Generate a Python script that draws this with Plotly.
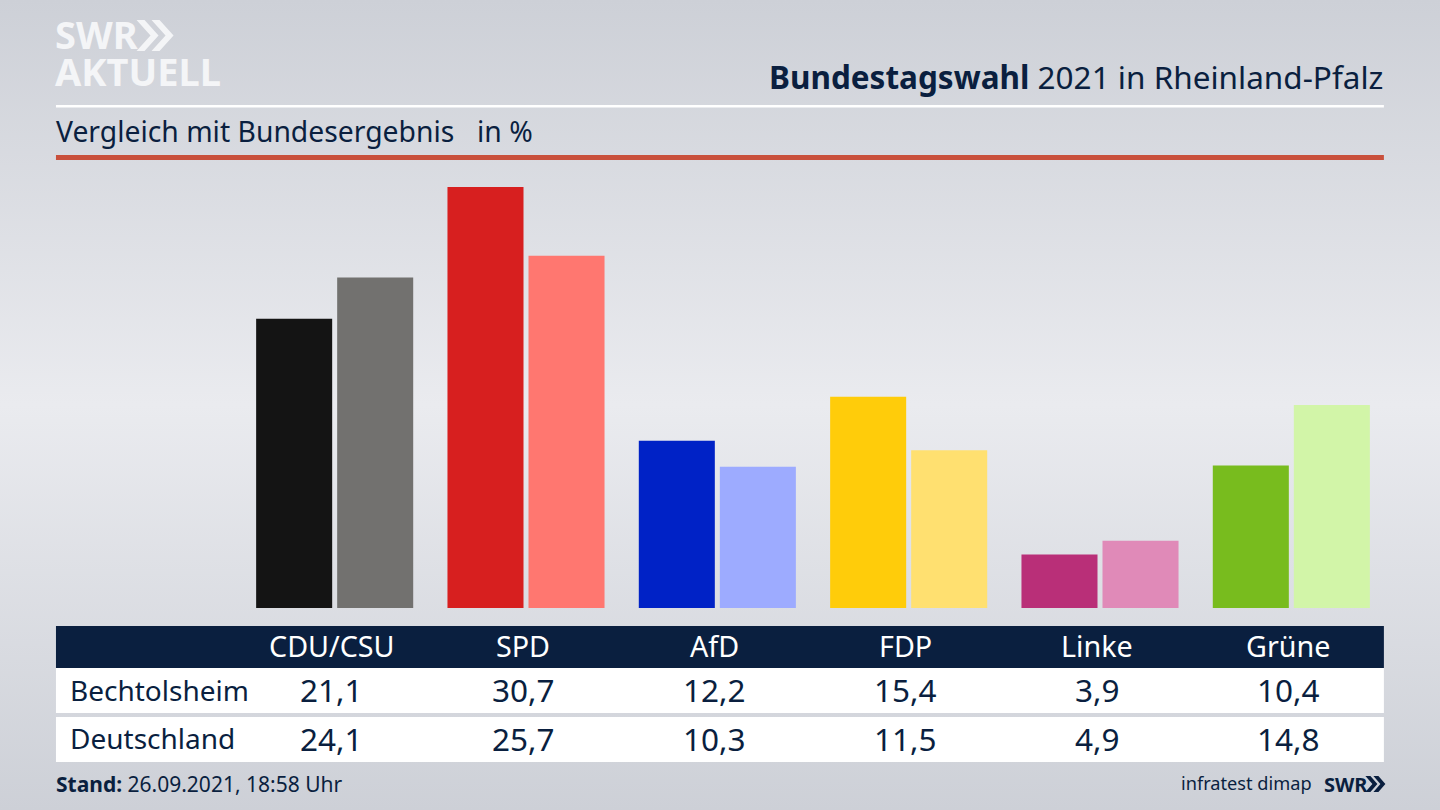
import base64
import plotly.graph_objects as go

# chart data
parties = ['CDU/CSU', 'SPD', 'AfD', 'FDP', 'Linke', 'Grüne']
bechtolsheim = [21.1, 30.7, 12.2, 15.4, 3.9, 10.4]
deutschland = [24.1, 25.7, 10.3, 11.5, 4.9, 14.8]
colors_local = ['#141414', '#d71f1f', '#0022c6', '#ffcc0a', '#b92f78', '#78bc1e']
colors_federal = ['#72716f', '#ff7770', '#9dabff', '#ffe070', '#e08ab8', '#d2f5a8']
row_names = ['Bechtolsheim', 'Deutschland']

W, H = 1440, 810
L, R, T, B = 239.4, 53.4, 160, 202
NAVY = '#0a1f3f'
FONT = 'Noto Sans'


def px(x):
    return (x - L) / (W - L - R)


def py(y):
    return 1 - (y - T) / (H - T - B)


def rect(x0, y0, x1, y1, color):
    return dict(type='rect', xref='paper', yref='paper', x0=px(x0), x1=px(x1),
                y0=py(y0), y1=py(y1), fillcolor=color, line_width=0, layer='below')


def chevrons(x, y0, y1, color, depth, width, gap):
    # two ">" arrows of the SWR logo
    shapes = []
    mid = (y0 + y1) / 2
    for i in range(2):
        a = x + i * gap
        path = (f'M {px(a)} {py(y0)} L {px(a + width)} {py(y0)} L {px(a + width + depth)} {py(mid)} '
                f'L {px(a + width)} {py(y1)} L {px(a)} {py(y1)} L {px(a + depth)} {py(mid)} Z')
        shapes.append(dict(type='path', xref='paper', yref='paper', path=path,
                           fillcolor=color, line_width=0))
    return shapes


def label(x, y, text, size, color=NAVY, anchor='left', font=FONT):
    return dict(xref='paper', yref='paper', x=px(x), y=py(y), text=text, showarrow=False,
                xanchor=anchor, yanchor='middle', font=dict(family=font, size=size, color=color))


svg = ('<svg xmlns="http://www.w3.org/2000/svg" width="1440" height="810">'
       '<defs><linearGradient id="g" x1="0" y1="0" x2="0" y2="1">'
       '<stop offset="0" stop-color="#cdd0d7"/><stop offset="0.5" stop-color="#eaebef"/>'
       '<stop offset="1" stop-color="#cdd0d7"/></linearGradient></defs>'
       '<rect width="1440" height="810" fill="url(#g)"/></svg>')
bg = 'data:image/svg+xml;base64,' + base64.b64encode(svg.encode()).decode()

fig = go.Figure()
fig.add_bar(x=parties, y=bechtolsheim, marker_color=colors_local, marker_line_width=0, name=row_names[0])
fig.add_bar(x=parties, y=deutschland, marker_color=colors_federal, marker_line_width=0, name=row_names[1])

shapes = [
    rect(56.5, 105, 1383.5, 107.5, '#ffffff'),
    rect(56.5, 155, 1383.5, 160, '#c9503c'),
    rect(56.5, 626, 1383.5, 668, NAVY),
    rect(56.5, 668, 1383.5, 713, '#ffffff'),
    rect(56.5, 717, 1383.5, 762, '#ffffff'),
]
shapes += chevrons(137, 20, 51, '#f4f5f7', 14, 8, 15)
shapes += chevrons(1365, 776, 792, NAVY, 7, 5, 8)

annotations = [
    label(54, 34, '<b>SWR</b>', 38, '#f4f5f7'),
    label(54, 71, '<b>AKTUELL</b>', 38, '#f4f5f7'),
    label(1385, 77, '<b>Bundestagswahl</b> 2021 in Rheinland-Pfalz', 31.5, anchor='right'),
    label(55, 131, 'Vergleich mit Bundesergebnis', 28.3),
    label(475, 131, 'in %', 28.3),
    label(54.5, 784, '<b>Stand:</b> 26.09.2021, 18:58 Uhr', 21),
    label(1314, 783, 'infratest dimap', 18.2, anchor='right'),
    label(1322, 784, '<b>SWR</b>', 20),
    label(69, 690, row_names[0], 28),
    label(69, 738, row_names[1], 28),
]

# table columns follow the category axis
for i, party in enumerate(parties):
    for y_pos, text, color, size in [(645, party, '#ffffff', 28.7),
                                     (689, f'{bechtolsheim[i]:.1f}'.replace('.', ','), NAVY, 31.5),
                                     (738, f'{deutschland[i]:.1f}'.replace('.', ','), NAVY, 31.5)]:
        annotations.append(dict(xref='x', yref='paper', x=party, y=py(y_pos), xshift=-3, text=text,
                                showarrow=False, xanchor='center', yanchor='middle',
                                font=dict(family=FONT, size=size, color=color)))

fig.update_layout(
    width=W, height=H, margin=dict(l=L, r=R, t=T, b=B, pad=0),
    barmode='group', bargap=0.153, bargroupgap=0.0617,
    showlegend=False, plot_bgcolor='rgba(0,0,0,0)', paper_bgcolor='#dcdee3',
    xaxis=dict(visible=False, categoryorder='array', categoryarray=parties),
    yaxis=dict(visible=False, range=[0, 448 / 13.71]),
    shapes=shapes, annotations=annotations,
    images=[dict(source=bg, xref='paper', yref='paper', x=px(0), y=py(0), sizex=px(W) - px(0),
                 sizey=py(0) - py(H), sizing='stretch', layer='below', xanchor='left', yanchor='top')],
)

fig.write_html('out.html', config=dict(displayModeBar=False), post_script="document.body.style.margin='0';")
